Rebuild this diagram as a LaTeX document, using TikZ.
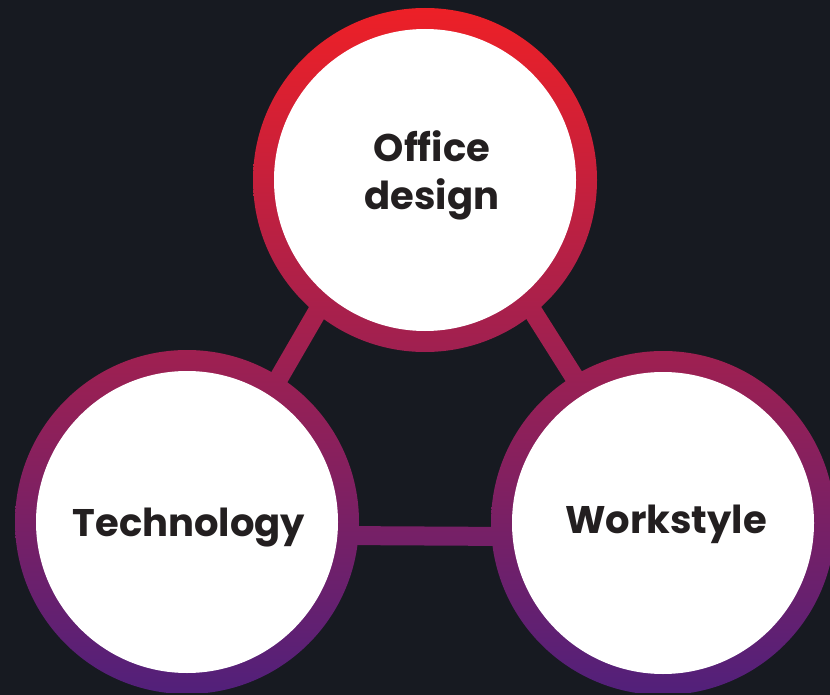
\documentclass[tikz,border=0pt]{standalone}
\usepackage{fontspec}
\setmainfont{Poppins}
\usetikzlibrary{calc}
\definecolor{bgdark}{HTML}{171A21}
\definecolor{gradtop}{HTML}{ED2027}
\definecolor{gradbot}{HTML}{52207A}
\definecolor{txt}{HTML}{231F20}
\tikzset{
  innerdisc/.style={circle, fill=white, minimum size=302pt, inner sep=0pt},
  lbl/.style={text=txt, font=\fontsize{38.5}{48}\selectfont\bfseries, align=center, inner sep=0pt},
  gradfill/.style={top color=gradtop, bottom color=gradbot}
}
\newcommand{\gradshade}{\shade[gradfill] (0,8) rectangle (830,692);}
\begin{document}
\begin{tikzpicture}[x=1pt,y=-1pt]
\fill[bgdark] (0,0) rectangle (830,695);
\useasboundingbox (0,0) rectangle (830,695);
% centres
\coordinate (T) at (425,180);
\coordinate (L) at (187,522);
\coordinate (R) at (663,523);
% connector ends (inside the white discs)
\coordinate (tla) at (353,250);
\coordinate (tlb) at (243,440);
\coordinate (tra) at (494,250);
\coordinate (trb) at (614,440);
\coordinate (lra) at (250,535);
\coordinate (lrb) at (600,537);
% connectors, shaded with the global gradient
\foreach \a/\b in {tla/tlb, tra/trb, lra/lrb}{
  \begin{scope}
    \clip ($(\a)!9.5pt!90:(\b)$) -- ($(\a)!9.5pt!-90:(\b)$) -- ($(\b)!9.5pt!90:(\a)$) -- ($(\b)!9.5pt!-90:(\a)$) -- cycle;
    \gradshade
  \end{scope}
}
% rings
\foreach \c in {T,L,R}{
  \begin{scope}
    \clip (\c) circle[radius=172pt];
    \gradshade
  \end{scope}
}
% white discs
\node[innerdisc] (Tc) at (T) {};
\node[innerdisc] (Lc) at (L) {};
\node[innerdisc] (Rc) at (R) {};
% labels
\node[lbl] (Tt) at (432,175) {Office\\design};
\node[lbl] (Lt) at (189,528) {Technology};
\node[lbl] (Rt) at (666,524) {Workstyle};
\end{tikzpicture}
\end{document}
